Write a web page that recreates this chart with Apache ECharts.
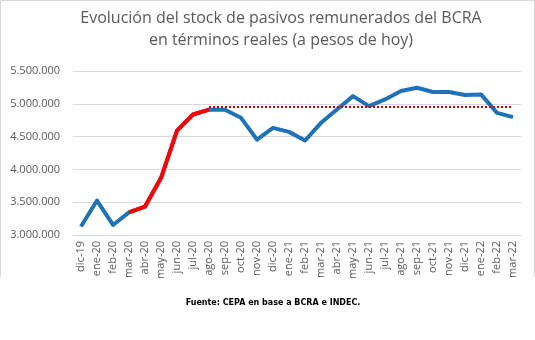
<!DOCTYPE html>
<html>
<head>
<meta charset="utf-8">
<script src="https://cdn.jsdelivr.net/npm/echarts@6/dist/echarts.min.js"></script>
<style>
html,body{margin:0;padding:0;background:#fff;}
#c{width:535px;height:340px;}
</style>
</head>
<body>
<div id="c"></div>
<script>
const categories = ["dic-19","ene-20","feb-20","mar-20","abr-20","may-20","jun-20","jul-20","ago-20","sep-20","oct-20","nov-20","dic-20","ene-21","feb-21","mar-21","abr-21","may-21","jun-21","jul-21","ago-21","sep-21","oct-21","nov-21","dic-21","ene-22","feb-22","mar-22"];
const stock = [3130000,3525000,3153000,3345000,3434000,3868000,4592000,4837000,4910000,4910000,4786000,4454000,4633000,4572000,4440000,4710000,4913000,5117000,4964000,5067000,5194000,5245000,5180000,5180000,5133000,5143000,4862000,4796000];
const redStart = 3, redEnd = 8;
const refLevel = 4950000;
const refStart = 8;
const yTicks = [3000000, 3500000, 4000000, 4500000, 5000000, 5500000];
const titleText = "Evolución del stock de pasivos remunerados del BCRA\nen términos reales (a pesos de hoy)";
const sourceText = "Fuente: CEPA en base a BCRA e INDEC.";

const redData = stock.map((v, i) => (i >= redStart && i <= redEnd) ? v : null);
const refData = categories.map((c, i) => i >= refStart ? refLevel : null);
const fmt = v => String(v).replace(/\B(?=(\d{3})+(?!\d))/g, ".");

const chart = echarts.init(document.getElementById('c'), null, {renderer: 'canvas'});
chart.setOption({
  animation: false,
  backgroundColor: '#ffffff',
  title: [{
    text: titleText,
    left: 276, top: 2, textAlign: 'center',
    textStyle: {fontFamily: 'Open Sans', fontWeight: 'normal', fontSize: 16, color: '#595959', lineHeight: 22}
  }, {
    text: sourceText,
    left: 268, top: 294, textAlign: 'center',
    textStyle: {fontFamily: 'DejaVu Sans', fontWeight: 'bold', fontSize: 8, color: '#000000'}
  }],
  graphic: [{
    type: 'polyline',
    shape: {points: [[0.5, 277], [0.5, 0.5], [534.5, 0.5], [534.5, 277]]},
    style: {stroke: '#d9d9d9', lineWidth: 1, fill: null},
    silent: true
  }],
  grid: {left: 73, right: 14, top: 71, bottom: 105, containLabel: false},
  xAxis: {
    type: 'category',
    data: categories,
    boundaryGap: true,
    axisLine: {show: true, lineStyle: {color: '#d9d9d9'}},
    axisTick: {show: false},
    axisLabel: {rotate: 90, interval: 0, fontFamily: 'Open Sans', fontSize: 11, color: '#595959', margin: 6}
  },
  yAxis: {
    type: 'value',
    min: yTicks[0], max: yTicks[yTicks.length - 1], interval: 500000,
    axisLine: {show: false},
    axisTick: {show: false},
    splitLine: {lineStyle: {color: '#d9d9d9', width: 1}},
    axisLabel: {formatter: fmt, fontFamily: 'Open Sans', fontSize: 11, color: '#595959', margin: 13}
  },
  series: [{
    type: 'line', data: stock, symbol: 'none',
    lineStyle: {color: '#1f72b8', width: 4, join: 'round'}, z: 2
  }, {
    type: 'line', data: redData, symbol: 'none',
    lineStyle: {color: '#ff0000', width: 4, join: 'round'}, z: 3
  }, {
    type: 'line', data: refData, symbol: 'none',
    lineStyle: {color: '#c00000', width: 2, type: [2, 2]}, z: 4
  }]
});
</script>
</body>
</html>
